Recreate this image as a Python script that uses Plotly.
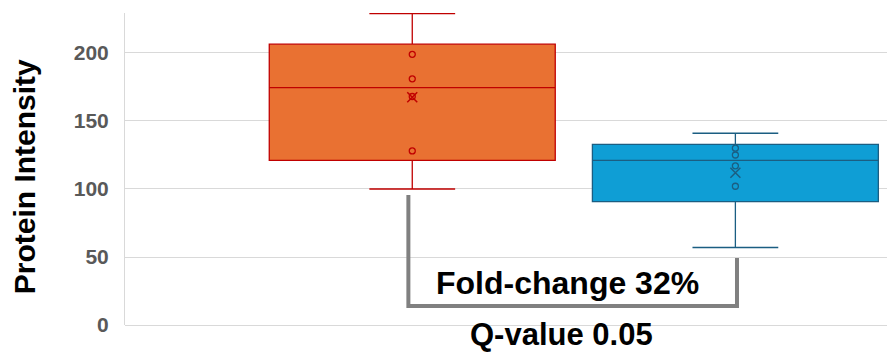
import plotly.graph_objects as go
import numpy as np

# ---- data ----
group_names = ["Group 1", "Group 2"]
group1_values = [100, 128, 168, 181, 199, 229]
group2_values = [57, 102, 117, 125, 130, 141]
y_ticks = [0, 50, 100, 150, 200]
fold_change_label = "Fold-change 32%"
q_value_label = "Q-value 0.05"
y_title = "Protein Intensity"

fill_colors = ["#E97132", "#0F9ED5"]
line_colors = ["#C00000", "#1B5E82"]


def excel_quartile(vals, p):
    s = sorted(vals)
    n = len(s)
    pos = p * (n + 1)
    lo = int(np.floor(pos))
    frac = pos - lo
    lo = min(max(lo, 1), n)
    hi = min(lo + 1, n)
    return s[lo - 1] + frac * (s[hi - 1] - s[lo - 1])


fig = go.Figure()
datasets = [group1_values, group2_values]
for i, vals in enumerate(datasets):
    q1 = excel_quartile(vals, 0.25)
    med = excel_quartile(vals, 0.5)
    q3 = excel_quartile(vals, 0.75)
    fig.add_trace(go.Box(
        x=[i], q1=[q1], median=[med], q3=[q3],
        lowerfence=[min(vals)], upperfence=[max(vals)],
        name=group_names[i], width=0.885, whiskerwidth=0.3,
        fillcolor=fill_colors[i], line=dict(color=line_colors[i], width=1.3),
        boxpoints=False, showlegend=False, hoverinfo="skip",
    ))
    inner = [v for v in vals if min(vals) < v < max(vals)]
    fig.add_trace(go.Scatter(
        x=[i] * len(inner), y=inner, mode="markers",
        marker=dict(symbol="circle-open", size=6,
                    line=dict(color=line_colors[i], width=1.3),
                    color=line_colors[i]),
        showlegend=False, hoverinfo="skip",
    ))
    fig.add_trace(go.Scatter(
        x=[i], y=[float(np.mean(vals))], mode="markers",
        marker=dict(symbol="x-thin-open", size=10,
                    line=dict(color=line_colors[i], width=1.5),
                    color=line_colors[i]),
        showlegend=False, hoverinfo="skip",
    ))

# significance bracket
fig.add_shape(type="path",
              path="M -0.012,95.6 L -0.012,14 L 1.005,14 L 1.005,49.3",
              xref="x", yref="y", line=dict(color="#808080", width=4))

fig.add_annotation(x=0.479, y=30.9, xref="x", yref="y", text=fold_change_label,
                   showarrow=False, xanchor="center", yanchor="middle",
                   font=dict(family="Liberation Sans", size=32,
                             color="#000000", weight="bold"))
fig.add_annotation(x=0.461, y=-0.029, xref="x", yref="paper", text=q_value_label,
                   showarrow=False, xanchor="center", yanchor="middle",
                   font=dict(family="Liberation Sans", size=31,
                             color="#000000", weight="bold"))
fig.add_annotation(x=-0.131, y=0.474, xref="paper", yref="paper", text=y_title,
                   textangle=-90, showarrow=False, xanchor="center", yanchor="middle",
                   font=dict(family="Liberation Sans", size=30,
                             color="#000000", weight="bold"))

# page body has an 8px margin; size the figure so the plot area lands where the reference has it
fig.update_layout(
    width=887, height=344,
    margin=dict(l=117, r=0, t=5, b=27),
    paper_bgcolor="white", plot_bgcolor="white",
    xaxis=dict(range=[-0.889, 1.494], showticklabels=False, showgrid=False,
               zeroline=False, showline=False, ticks=""),
    yaxis=dict(range=[0, 229.4], tickvals=y_ticks, showgrid=True,
               gridcolor="#D9D9D9", gridwidth=1, zeroline=True,
               zerolinecolor="#D9D9D9", zerolinewidth=1,
               showline=True, linecolor="#D9D9D9", linewidth=1,
               ticks="", ticklabelstandoff=11,
               tickfont=dict(family="Liberation Sans", size=21,
                             color="#595959", weight="bold")),
)

fig.write_html("out.html")
